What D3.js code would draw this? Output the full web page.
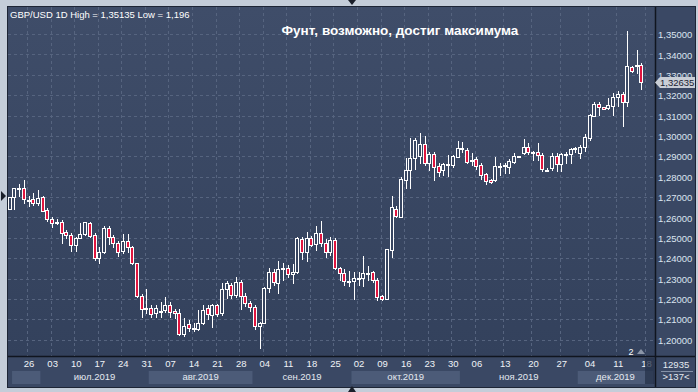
<!DOCTYPE html>
<html>
<head>
<meta charset="utf-8">
<script src="https://d3js.org/d3.v7.min.js"></script>
<style>
  body { margin: 0; background: #c4cdd9; }
  svg { display: block; font-family: "Liberation Sans", Arial, sans-serif; }
</style>
</head>
<body>
<svg id="chart" width="698" height="392"></svg>
<script>
// GBP/USD daily candles, 20 Jun 2019 .. 17 Dec 2019 (bar index 0..134)
const headerText = 'GBP/USD 1D High = 1,35135 Low = 1,196';
const titleText = 'Фунт, возможно, достиг максимума';

const openP = [
  1.2639, 1.2698, 1.2743, 1.2743, 1.2687, 1.2689, 1.2669, 1.2698, 1.2636, 1.2592,
  1.2579, 1.2577, 1.2528, 1.2513, 1.2463, 1.2497, 1.2517, 1.2571, 1.2513, 1.2402,
  1.2428, 1.2546, 1.2502, 1.2473, 1.2437, 1.2484, 1.2453, 1.2374, 1.2216, 1.2154,
  1.2157, 1.2129, 1.2142, 1.2145, 1.2170, 1.2140, 1.2129, 1.2026, 1.2075, 1.2056,
  1.2054, 1.2084, 1.2154, 1.2121, 1.2170, 1.2129, 1.2247, 1.2269, 1.2218, 1.2285,
  1.2214, 1.2182, 1.2159, 1.2069, 1.2084, 1.2252, 1.2334, 1.2280, 1.2350, 1.2350,
  1.2322, 1.2333, 1.2492, 1.2428, 1.2497, 1.2469, 1.2526, 1.2476, 1.2428, 1.2489,
  1.2350, 1.2325, 1.2289, 1.2289, 1.2301, 1.2301, 1.2328, 1.2333, 1.2292, 1.2214,
  1.2202, 1.2440, 1.2639, 1.2603, 1.2783, 1.2832, 1.2890, 1.2901, 1.2960, 1.2868,
  1.2911, 1.2852, 1.2832, 1.2860, 1.2857, 1.2898, 1.2939, 1.2933, 1.2881, 1.2885,
  1.2857, 1.2813, 1.2783, 1.2783, 1.2852, 1.2857, 1.2849, 1.2873, 1.2901, 1.2917,
  1.2947, 1.2923, 1.2919, 1.2906, 1.2834, 1.2844, 1.2901, 1.2860, 1.2910, 1.2910,
  1.2939, 1.2918, 1.2947, 1.2988, 1.3099, 1.3156, 1.3140, 1.3135, 1.3147, 1.3189,
  1.3206, 1.3168, 1.3336, 1.3343, 1.3348
];
const highP = [
  1.2698, 1.2743, 1.2764, 1.2783, 1.2705, 1.2721, 1.2734, 1.2703, 1.2644, 1.2603,
  1.2590, 1.2587, 1.2538, 1.2522, 1.2505, 1.2574, 1.2579, 1.2579, 1.2522, 1.2456,
  1.2558, 1.2558, 1.2513, 1.2486, 1.2518, 1.2518, 1.2460, 1.2378, 1.2224, 1.2248,
  1.2170, 1.2170, 1.2186, 1.2211, 1.2186, 1.2149, 1.2149, 1.2105, 1.2097, 1.2080,
  1.2146, 1.2170, 1.2170, 1.2175, 1.2175, 1.2277, 1.2290, 1.2277, 1.2306, 1.2293,
  1.2231, 1.2191, 1.2170, 1.2089, 1.2260, 1.2350, 1.2345, 1.2388, 1.2378, 1.2366,
  1.2371, 1.2502, 1.2502, 1.2530, 1.2508, 1.2557, 1.2584, 1.2492, 1.2505, 1.2497,
  1.2358, 1.2345, 1.2338, 1.2333, 1.2333, 1.2410, 1.2361, 1.2338, 1.2301, 1.2219,
  1.2443, 1.2705, 1.2656, 1.2800, 1.2890, 1.2988, 1.2988, 1.3016, 1.2999, 1.2922,
  1.2922, 1.2865, 1.2868, 1.2906, 1.2904, 1.2975, 1.2971, 1.2939, 1.2916, 1.2895,
  1.2868, 1.2819, 1.2787, 1.2895, 1.2865, 1.2868, 1.2885, 1.2917, 1.2903, 1.2983,
  1.2966, 1.2926, 1.2967, 1.2914, 1.2841, 1.2914, 1.2914, 1.2918, 1.2923, 1.2939,
  1.2947, 1.2955, 1.3008, 1.3107, 1.3168, 1.3168, 1.3140, 1.3184, 1.3212, 1.3222,
  1.3217, 1.35135, 1.3343, 1.3421, 1.3356
];
const lowP = [
  1.2639, 1.2639, 1.2705, 1.2669, 1.2656, 1.2659, 1.2659, 1.2630, 1.2584, 1.2554,
  1.2567, 1.2476, 1.2497, 1.2437, 1.2437, 1.2497, 1.2513, 1.2505, 1.2391, 1.2378,
  1.2424, 1.2469, 1.2453, 1.2410, 1.2424, 1.2432, 1.2371, 1.2208, 1.2113, 1.2132,
  1.2113, 1.2113, 1.2113, 1.2137, 1.2113, 1.2105, 1.2021, 1.2018, 1.2043, 1.2043,
  1.2047, 1.2077, 1.2100, 1.2061, 1.2116, 1.2121, 1.2203, 1.2203, 1.2211, 1.2151,
  1.2165, 1.2142, 1.2053, 1.1958, 1.2080, 1.2236, 1.2269, 1.2231, 1.2292, 1.2309,
  1.2279, 1.2328, 1.2394, 1.2387, 1.2459, 1.2440, 1.2459, 1.2407, 1.2415, 1.2345,
  1.2292, 1.2266, 1.2263, 1.2201, 1.2268, 1.2263, 1.2292, 1.2284, 1.2194, 1.2194,
  1.2202, 1.2407, 1.2600, 1.2600, 1.2742, 1.2742, 1.2840, 1.2865, 1.2857, 1.2832,
  1.2783, 1.2803, 1.2808, 1.2803, 1.2845, 1.2895, 1.2922, 1.2868, 1.2857, 1.2836,
  1.2787, 1.2764, 1.2770, 1.2780, 1.2808, 1.2816, 1.2819, 1.2865, 1.2898, 1.2911,
  1.2911, 1.2882, 1.2882, 1.2826, 1.2826, 1.2833, 1.2828, 1.2826, 1.2869, 1.2869,
  1.2921, 1.2893, 1.2928, 1.2980, 1.3098, 1.3102, 1.3130, 1.3130, 1.3102, 1.3147,
  1.3048, 1.3147, 1.3315, 1.3307, 1.3230
];
const closeP = [
  1.2698, 1.2743, 1.2745, 1.2689, 1.2685, 1.2669, 1.2695, 1.2633, 1.2590, 1.2571,
  1.2577, 1.2525, 1.2513, 1.2463, 1.2497, 1.2518, 1.2576, 1.2510, 1.2402, 1.2428,
  1.2546, 1.2502, 1.2473, 1.2432, 1.2484, 1.2453, 1.2378, 1.2216, 1.2149, 1.2152,
  1.2126, 1.2157, 1.2140, 1.2170, 1.2137, 1.2129, 1.2026, 1.2069, 1.2056, 1.2054,
  1.2080, 1.2146, 1.2126, 1.2170, 1.2126, 1.2247, 1.2277, 1.2218, 1.2285, 1.2214,
  1.2178, 1.2159, 1.2067, 1.2080, 1.2252, 1.2334, 1.2285, 1.2345, 1.2348, 1.2322,
  1.2333, 1.2497, 1.2428, 1.2497, 1.2464, 1.2526, 1.2476, 1.2428, 1.2489, 1.2350,
  1.2325, 1.2286, 1.2288, 1.2301, 1.2300, 1.2328, 1.2327, 1.2292, 1.2211, 1.2202,
  1.2443, 1.2649, 1.2607, 1.2787, 1.2832, 1.2890, 1.2980, 1.2960, 1.2868, 1.2911,
  1.2849, 1.2824, 1.2862, 1.2858, 1.2901, 1.2939, 1.2938, 1.2873, 1.2880, 1.2852,
  1.2808, 1.2780, 1.2773, 1.2852, 1.2853, 1.2858, 1.2876, 1.2901, 1.2900, 1.2947,
  1.2921, 1.2922, 1.2906, 1.2836, 1.2833, 1.2901, 1.2860, 1.2910, 1.2911, 1.2934,
  1.2940, 1.2947, 1.2996, 1.3102, 1.3156, 1.3140, 1.3130, 1.3152, 1.3189, 1.3206,
  1.3168, 1.3343, 1.3320, 1.3348, 1.32635
];
const lastPrice = 1.32635;

// weekly date ticks (bar index -> label)
const tickIdx = [4, 9, 14, 19, 24, 29, 34, 39, 44, 49, 54, 59, 64, 69, 74, 79, 84, 89, 94,
                 99, 105, 111, 117, 123, 129, 135];
const tickLbl = ['26', '03', '10', '17', '24', '31', '07', '14', '21', '28', '04', '11', '18', '25',
                 '02', '09', '16', '23', '30', '06', '13', '20', '27', '04', '11', '18'];
// month bands (first bar, first bar of next month, label)
const monthStart = [1, 7, 30, 52, 73, 96, 121];
const monthEnd = [7, 30, 52, 73, 96, 121, 137];
const monthLbl = ['', 'июл.2019', 'авг.2019', 'сен.2019', 'окт.2019', 'ноя.2019', 'дек.2019'];
const priceTicks = [1.20, 1.21, 1.22, 1.23, 1.24, 1.25, 1.26, 1.27, 1.28, 1.29, 1.30, 1.31, 1.32, 1.33, 1.34, 1.35];
const barsTotal = '12935';
const barsVisible = '>137<';

// layout
const plotL = 8, plotR = 655, plotT = 7, plotB = 356;
const stripB = 387, panelR = 695;
const step = 4.714;

const svg = d3.select('#chart');
const defs = svg.append('defs');
const grad = defs.append('linearGradient')
    .attr('id', 'bg').attr('gradientUnits', 'userSpaceOnUse')
    .attr('x1', 0).attr('y1', plotT).attr('x2', 0).attr('y2', plotB);
grad.append('stop').attr('offset', 0).attr('stop-color', '#3f4d69');
grad.append('stop').attr('offset', 1).attr('stop-color', '#33415c');
defs.append('clipPath').attr('id', 'plotClip')
    .append('rect').attr('x', plotL).attr('y', plotT).attr('width', plotR - plotL).attr('height', plotB - plotT);

const x = d3.scaleLinear().domain([0, 134]).range([9.7, 9.7 + 134 * step]);
const y = d3.scaleLinear().domain([1.20, 1.35]).range([339.7, 34]);
const fmt = d => d.toFixed(5).replace('.', ',');

// backgrounds
svg.append('rect').attr('x', plotL).attr('y', plotT).attr('width', panelR - plotL).attr('height', stripB - plotT)
    .attr('fill', '#3a4864');
svg.append('rect').attr('x', plotL).attr('y', plotT).attr('width', plotR - plotL).attr('height', plotB - plotT)
    .attr('fill', 'url(#bg)');

// month bands
const bands = svg.append('g');
monthStart.forEach((s, k) => {
    const x0 = x(s) - step / 2;
    const x1 = Math.min(x(monthEnd[k]) - step / 2, plotR);
    if (k % 2 === 0) {
        bands.append('rect').attr('x', x0).attr('y', 371).attr('width', x1 - x0).attr('height', 13)
            .attr('fill', '#4c5b78');
    }
    bands.append('text').attr('x', (x0 + x1) / 2).attr('y', 380)
        .attr('text-anchor', 'middle').attr('font-size', 9.5).attr('fill', '#e4e9f0')
        .text(monthLbl[k]);
});

// grid
const grid = svg.append('g').attr('stroke', '#56647f').attr('stroke-dasharray', '3,3').attr('stroke-width', 1);
grid.selectAll('line.h').data(priceTicks).join('line')
    .attr('x1', plotL).attr('x2', plotR)
    .attr('y1', d => Math.round(y(d)) + 0.5).attr('y2', d => Math.round(y(d)) + 0.5);
grid.selectAll('line.v').data(tickIdx).join('line')
    .attr('x1', d => Math.floor(x(d)) - 0.5).attr('x2', d => Math.floor(x(d)) - 0.5)
    .attr('y1', plotT).attr('y2', plotB);

// candles
const idx = d3.range(openP.length);
const cg = svg.append('g').attr('clip-path', 'url(#plotClip)');
const cx = i => Math.round(x(i));
cg.selectAll('line.wick').data(idx).join('line')
    .attr('x1', i => cx(i) + 0.5).attr('x2', i => cx(i) + 0.5)
    .attr('y1', i => Math.round(y(highP[i]))).attr('y2', i => Math.round(y(lowP[i])) + 1)
    .attr('stroke', '#ffffff').attr('stroke-width', 1);
cg.selectAll('rect.body').data(idx).join('rect')
    .attr('x', i => cx(i) - 1.5)
    .attr('y', i => Math.round(y(Math.max(openP[i], closeP[i]))) + 0.5)
    .attr('width', 3)
    .attr('height', i => Math.max(1, Math.round(y(Math.min(openP[i], closeP[i]))) - Math.round(y(Math.max(openP[i], closeP[i])))))
    .attr('fill', i => closeP[i] < openP[i] ? '#e0153f' : 'url(#bg)')
    .attr('stroke', '#ffffff').attr('stroke-width', 1);

// frame lines
svg.append('line').attr('x1', plotL).attr('x2', panelR).attr('y1', plotB + 0.5).attr('y2', plotB + 0.5)
    .attr('stroke', '#10151f').attr('stroke-width', 1.5);
svg.append('line').attr('x1', plotR + 0.5).attr('x2', plotR + 0.5).attr('y1', plotT).attr('y2', stripB)
    .attr('stroke', '#10151f').attr('stroke-width', 1.5);
svg.append('rect').attr('x', plotL - 0.5).attr('y', plotT - 0.5).attr('width', panelR - plotL + 1).attr('height', stripB - plotT + 1)
    .attr('fill', 'none').attr('stroke', '#1d2535').attr('stroke-width', 1);

// price axis
const yAxis = svg.append('g').attr('transform', `translate(${plotR + 3},0)`)
    .call(d3.axisRight(y).tickValues(priceTicks).tickSize(0).tickPadding(0).tickFormat(fmt));
yAxis.select('.domain').remove();
yAxis.selectAll('text').attr('fill', '#dbe4f0').attr('font-size', 9.5)
    .attr('font-family', '"Liberation Sans", Arial, sans-serif').attr('dy', '0.38em');

// date axis
const xAxis = svg.append('g').attr('transform', `translate(0,${plotB + 2})`)
    .call(d3.axisBottom(x).tickValues(tickIdx).tickSize(0).tickPadding(2).tickFormat((d, k) => tickLbl[k]));
xAxis.select('.domain').remove();
xAxis.selectAll('text').attr('fill', '#f0f3f7').attr('font-size', 9.5)
    .attr('font-family', '"Liberation Sans", Arial, sans-serif');

// future zone in the date strip
svg.append('rect').attr('x', 645).attr('y', 358).attr('width', 9.5).attr('height', 26)
    .attr('fill', '#263249').attr('opacity', 0.75);

// current price tag
const ly = Math.round(y(lastPrice)) + 0.5;
svg.append('path')
    .attr('d', `M${plotR},${ly} L${plotR + 5},${ly - 5.5} L${panelR},${ly - 5.5} L${panelR},${ly + 5.5} L${plotR + 5},${ly + 5.5} Z`)
    .attr('fill', '#c9ced6');
svg.append('text').attr('x', plotR + 5).attr('y', ly + 3.5).attr('font-size', 9.5).attr('fill', '#1a2232')
    .text(fmt(lastPrice));

// bar counters
svg.append('text').attr('x', 676).attr('y', 367.5).attr('text-anchor', 'middle').attr('font-size', 9.5)
    .attr('fill', '#e4e9f0').text(barsTotal);
svg.append('line').attr('x1', 661).attr('x2', 693).attr('y1', 371.5).attr('y2', 371.5).attr('stroke', '#8592a8');
svg.append('text').attr('x', 676).attr('y', 380).attr('text-anchor', 'middle').attr('font-size', 9.5)
    .attr('fill', '#e4e9f0').text(barsVisible);

// texts
svg.append('text').attr('x', 10).attr('y', 18.3).attr('font-size', 9.5).attr('fill', '#ffffff').text(headerText);
svg.append('text').attr('x', 400).attr('y', 35).attr('text-anchor', 'middle').attr('font-size', 13.5)
    .attr('font-weight', 'bold').attr('fill', '#ffffff').text(titleText);
svg.append('text').attr('x', 631).attr('y', 355).attr('text-anchor', 'middle').attr('font-size', 9)
    .attr('fill', '#ffffff').text('2');

// little markers
svg.append('path').attr('d', 'M637,354 L641,349 L645,354 Z').attr('fill', '#8b96a8');
svg.append('path').attr('d', 'M348,0 L356,0 L352,5 Z').attr('fill', '#1a1f2a');
svg.append('path').attr('d', 'M348,392 L356,392 L352,386 Z').attr('fill', '#1a1f2a');
svg.append('path').attr('d', 'M1,191 L6,196 L1,201 Z').attr('fill', '#1a1f2a');
</script>
</body>
</html>
